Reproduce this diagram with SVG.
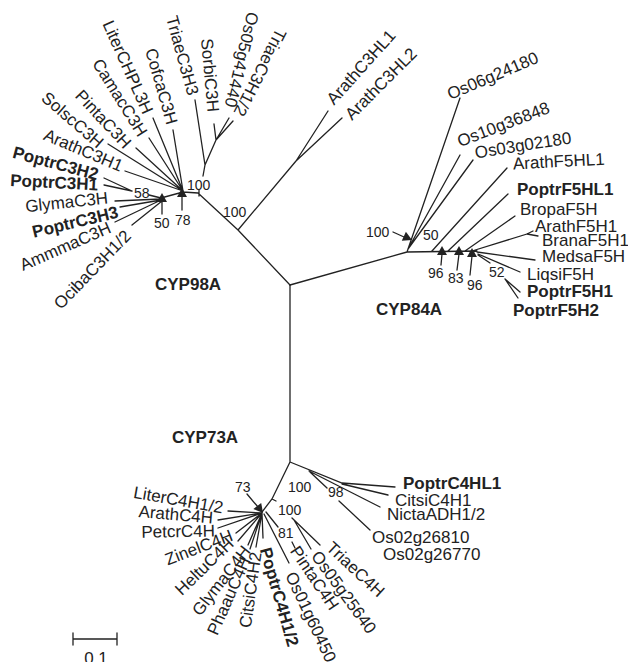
<svg xmlns="http://www.w3.org/2000/svg" width="628" height="662" viewBox="0 0 628 662">
<style>
.e{stroke:#222;stroke-width:1.3;fill:none;stroke-linecap:round}
.a{fill:#222;stroke:none}
text{font-family:"Liberation Sans",Arial,Helvetica,sans-serif;font-size:17px;fill:#222}
.b{font-weight:bold}
.s{font-size:14px}
.c{dominant-baseline:central}
.en{text-anchor:end}
</style>
<rect width="628" height="662" fill="#fff"/>
<g id="connectors">
<path class="e" d="M290,285 L238,230 L198,193 M238,230 L296,161 M296,161 L328,111 M296,161 L342,118 M199,190 L199,196 M198,193 L183,192 L161,198
M203,176 L205,165 L216,140 M205,165 L195,100 M216,140 L214,124 M216,140 L229,118 M216,140 L233,121
M183,191 L173,130 M183,191 L153,118 M183,191 L149,138 M183,191 L136,148 M183,191 L108,144 M183,191 L125,171
M104,178 L132,191 M104,185 L132,191 M149,195 L161,198
M115,201 L161,199 M120,207 L161,200 M115,222 L161,200 M132,225 L162,201
M182,197 L182,210 M162,202 L162,214"/>
<path class="e" d="M290,285 L407,252 M407,252 L460,98 M408,249 L460,155 M408,249 L473,160 M407,252 L477,251
M432,251 L507,168 M448,251 L508,194 M465,251 L515,216 M472,251 L527,234 L533,231 M527,234 L538,236
M477,252 L535,260 M478,254 L520,272 M478,255 L490,263 M505,279 L520,292 M505,279 L518,298
M441,265 L442,254 M457,270 L459,254 M470,275 L472,256 M393,232 L404,237"/>
<path class="e" d="M290,285 L290,462 M290,462 L272,499 L262,512 M272,499 L276,501 M247,494 L258,507
M262,513 L228,511 M262,513 L218,520 M262,513 L218,528 M262,513 L236,533 M262,513 L238,541 M262,513 L248,545 M262,513 L250,549 M262,513 L256,547 M262,513 L263,538
M264,514 L289,563 M266,512 L278,527 M292,542 L295,548 M292,518 L320,545 M294,520 L311,549
M290,462 L342,483 L395,487 M342,484 L388,495 M309,471 L380,507 M310,472 L327,488 M339,501 L370,530"/>
<path class="e" d="M73,639 L117,639 M73,633 L73,645 M117,633 L117,645"/>
<polygon class="a" points="182,188 177,197 187,197"/>
<polygon class="a" points="162,193 157,202 167,202"/>
<polygon class="a" points="442,246 437,255 447,255"/>
<polygon class="a" points="459,246 454,255 464,255"/>
<polygon class="a" points="472,248 467,257 477,257"/>
<polygon class="a" points="412,240 401.8,240.8 405.9,231.7"/>
<polygon class="a" points="263,513 253.4,509.1 261.2,502.9"/>
</g>
<g id="bootstrap">
<text class="s" x="187" y="190">100</text>
<text class="s" x="223" y="217">100</text>
<text class="s" x="134" y="198">58</text>
<text class="s" x="154" y="228">50</text>
<text class="s" x="175" y="225">78</text>
<text class="s" x="366" y="237">100</text>
<text class="s" x="423" y="240">50</text>
<text class="s" x="428" y="278">96</text>
<text class="s" x="448" y="283">83</text>
<text class="s" x="467" y="290">96</text>
<text class="s" x="489" y="277">52</text>
<text class="s" x="235" y="492">73</text>
<text class="s" x="288" y="492">100</text>
<text class="s" x="278" y="515">100</text>
<text class="s" x="278" y="538">81</text>
<text class="s" x="328" y="497">98</text>
</g>
<g id="clades">
<text class="b" x="155" y="290">CYP98A</text>
<text class="b" x="376" y="315">CYP84A</text>
<text class="b" x="172" y="443">CYP73A</text>
</g>
<g id="leaves-C3H">
<g id="TriaeC3H3"><text class="c en" transform="translate(193 95) rotate(74.5)">TriaeC3H3</text></g>
<g id="SorbiC3H"><text class="c en" transform="translate(213 112) rotate(85)">SorbiC3H</text></g>
<g id="Os05g41440"><text class="c en" transform="translate(230 107) rotate(103.5)">Os05g41440</text></g>
<g id="TriaeC3H12"><text class="c en" transform="translate(238 115) rotate(117)">TriaeC3H1/2</text></g>
<g id="CofcaC3H"><text class="c en" transform="translate(172 124) rotate(74)">CofcaC3H</text></g>
<g id="LiterCHPL3H"><text class="c en" transform="translate(148 113) rotate(66)">LiterCHPL3H</text></g>
<g id="CamacC3H"><text class="c en" transform="translate(143 135) rotate(58)">CamacC3H</text></g>
<g id="PintaC3H"><text class="c en" transform="translate(128 146) rotate(47)">PintaC3H</text></g>
<g id="SolscC3H"><text class="c en" transform="translate(101 145) rotate(41)">SolscC3H</text></g>
<g id="ArathC3H1"><text class="c en" transform="translate(122 167) rotate(23)">ArathC3H1</text></g>
<g id="PoptrC3H2"><text class="c en b" transform="translate(98 175) rotate(15)">PoptrC3H2</text></g>
<g id="PoptrC3H1"><text class="c en b" transform="translate(98 185) rotate(3)">PoptrC3H1</text></g>
<g id="GlymaC3H"><text class="c en" transform="translate(108 198) rotate(-6)">GlymaC3H</text></g>
<g id="PoptrC3H3"><text class="c en b" transform="translate(118 212) rotate(-13.5)">PoptrC3H3</text></g>
<g id="AmmmaC3H"><text class="c en" transform="translate(110 227) rotate(-23.6)">AmmmaC3H</text></g>
<g id="OcibaC3H12"><text class="c en" transform="translate(128 233) rotate(-46)">OcibaC3H1/2</text></g>
<g id="ArathC3HL1"><text class="c" transform="translate(330 102) rotate(-48)">ArathC3HL1</text></g>
<g id="ArathC3HL2"><text class="c" transform="translate(348 117) rotate(-45)">ArathC3HL2</text></g>
</g>
<g id="leaves-F5H">
<g id="Os06g24180"><text class="c" transform="translate(448 95) rotate(-23)">Os06g24180</text></g>
<g id="Os10g36848"><text class="c" transform="translate(458 142) rotate(-21)">Os10g36848</text></g>
<g id="Os03g02180"><text class="c" transform="translate(475 153) rotate(-9)">Os03g02180</text></g>
<g id="ArathF5HL1"><text class="c" transform="translate(513 164) rotate(-3)">ArathF5HL1</text></g>
<g id="PoptrF5HL1"><text class="b" x="517" y="195">PoptrF5HL1</text></g>
<g id="BropaF5H"><text x="520" y="215">BropaF5H</text></g>
<g id="ArathF5H1"><text x="535" y="232">ArathF5H1</text></g>
<g id="BranaF5H1"><text x="542" y="246">BranaF5H1</text></g>
<g id="MedsaF5H"><text x="542" y="262">MedsaF5H</text></g>
<g id="LiqsiF5H"><text x="527" y="280">LiqsiF5H</text></g>
<g id="PoptrF5H1"><text class="b" x="527" y="297">PoptrF5H1</text></g>
<g id="PoptrF5H2"><text class="b" x="513" y="316">PoptrF5H2</text></g>
</g>
<g id="leaves-C4H">
<g id="LiterC4H12"><text class="c en" transform="translate(223 508) rotate(10)">LiterC4H1/2</text></g>
<g id="ArathC4H"><text class="c en" transform="translate(213 518) rotate(5)">ArathC4H</text></g>
<g id="PetcrC4H"><text class="c en" transform="translate(215 531) rotate(-1)">PetcrC4H</text></g>
<g id="ZinelC4H"><text class="c en" transform="translate(232 535) rotate(-21)">ZinelC4H</text></g>
<g id="HeltuC4H"><text class="c en" transform="translate(231 541) rotate(-44)">HeltuC4H</text></g>
<g id="GlymaC4H"><text class="c en" transform="translate(247 548) rotate(-52)">GlymaC4H</text></g>
<g id="PhaauC4H"><text class="c en" transform="translate(246 558) rotate(-66)">PhaauC4H</text></g>
<g id="CitsiC4H2"><text class="c en" transform="translate(256 552) rotate(-82)">CitsiC4H2</text></g>
<g id="PoptrC4H12"><text class="c b" transform="translate(265 548) rotate(74)">PoptrC4H1/2</text></g>
<g id="Os01g60450"><text class="c" transform="translate(290 573) rotate(65)">Os01g60450</text></g>
<g id="PintaC4H"><text class="c" transform="translate(294 548) rotate(56)">PintaC4H</text></g>
<g id="Os05g25640"><text class="c" transform="translate(315 553) rotate(54)">Os05g25640</text></g>
<g id="TriaeC4H"><text class="c" transform="translate(329 545) rotate(43)">TriaeC4H</text></g>
<g id="PoptrC4HL1"><text class="b" x="403" y="489">PoptrC4HL1</text></g>
<g id="CitsiC4H1"><text x="395" y="506">CitsiC4H1</text></g>
<g id="NictaADH12"><text x="387" y="520">NictaADH1/2</text></g>
<g id="Os02g26810"><text x="372" y="543">Os02g26810</text></g>
<g id="Os02g26770"><text x="383" y="560">Os02g26770</text></g>
</g>
<g id="scale"><text x="96" y="664" text-anchor="middle">0.1</text></g>
</svg>
